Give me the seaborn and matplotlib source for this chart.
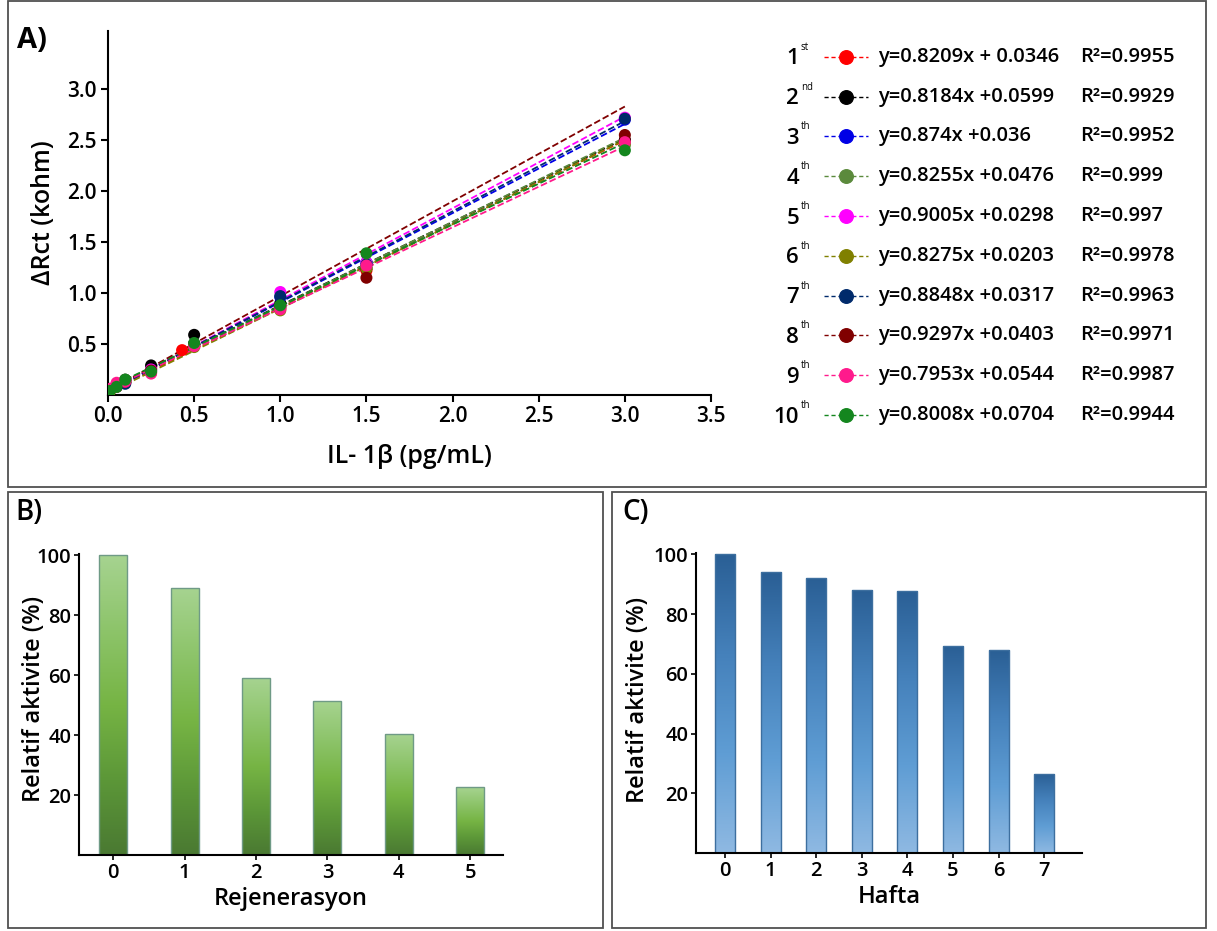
import numpy as np
import pandas as pd
import matplotlib
matplotlib.use("Agg")
import matplotlib.pyplot as plt
import seaborn as sns
from matplotlib.patches import Rectangle
from matplotlib.colors import LinearSegmentedColormap

# ---------------- data ----------------
# Panel A: calibration runs, delta Rct (kohm) vs IL-1beta concentration (pg/mL)
conc = [0.01, 0.05, 0.1, 0.25, 0.5, 1.0, 1.5, 3.0]
conc_1st = [0.01, 0.05, 0.1, 0.25, 0.43, 1.0, 1.5, 3.0]
run_1st = [0.04, 0.08, 0.13, 0.22, 0.44, 0.85, 1.22, 2.50]
run_2nd = [0.06, 0.10, 0.15, 0.29, 0.59, 0.90, 1.24, 2.50]
run_3rd = [0.05, 0.08, 0.12, 0.24, 0.50, 0.96, 1.30, 2.70]
run_4th = [0.05, 0.10, 0.15, 0.24, 0.50, 0.87, 1.26, 2.45]
run_5th = [0.04, 0.11, 0.14, 0.25, 0.49, 1.01, 1.30, 2.72]
run_6th = [0.03, 0.08, 0.12, 0.22, 0.47, 0.83, 1.24, 2.47]
run_7th = [0.05, 0.09, 0.11, 0.23, 0.50, 0.97, 1.28, 2.71]
run_8th = [0.05, 0.09, 0.13, 0.24, 0.50, 0.86, 1.15, 2.55]
run_9th = [0.06, 0.12, 0.13, 0.21, 0.48, 0.84, 1.27, 2.48]
run_10th = [0.04, 0.08, 0.15, 0.23, 0.51, 0.88, 1.39, 2.40]

ordinals = ["1", "2", "3", "4", "5", "6", "7", "8", "9", "10"]
suffixes = ["st", "nd", "th", "th", "th", "th", "th", "th", "th", "th"]
slopes = [0.8209, 0.8184, 0.874, 0.8255, 0.9005, 0.8275, 0.8848, 0.9297, 0.7953, 0.8008]
intercepts = [0.0346, 0.0599, 0.036, 0.0476, 0.0298, 0.0203, 0.0317, 0.0403, 0.0544, 0.0704]
equation_labels = ["y=0.8209x + 0.0346", "y=0.8184x +0.0599", "y=0.874x +0.036",
                   "y=0.8255x +0.0476", "y=0.9005x +0.0298", "y=0.8275x +0.0203",
                   "y=0.8848x +0.0317", "y=0.9297x +0.0403", "y=0.7953x +0.0544",
                   "y=0.8008x +0.0704"]
r_squared = ["0.9955", "0.9929", "0.9952", "0.999", "0.997",
             "0.9978", "0.9963", "0.9971", "0.9987", "0.9944"]
run_colors = ["#ff0000", "#000000", "#0000e6", "#5b8a3c", "#ff00ff",
              "#808000", "#002a6b", "#800000", "#ff1a8c", "#14861e"]

# Panel B: regeneration cycles
regen_cycles = ["0", "1", "2", "3", "4", "5"]
regen_activity = [100, 89, 59, 51.3, 40.3, 22.7]

# Panel C: storage stability by week
weeks = ["0", "1", "2", "3", "4", "5", "6", "7"]
week_activity = [100, 94, 92, 88, 87.8, 69.5, 68, 26.5]

# ---------------- style ----------------
sns.set_theme(style="ticks")
plt.rcParams["font.family"] = ["Open Sans", "DejaVu Sans"]
plt.rcParams["font.weight"] = "semibold"
plt.rcParams["axes.labelweight"] = "semibold"
plt.rcParams["axes.linewidth"] = 1.5
for key in ["text.color", "axes.labelcolor", "xtick.color", "ytick.color",
            "axes.edgecolor"]:
    plt.rcParams[key] = "black"

W, H = 1217, 931
fig = plt.figure(figsize=(W / 100, H / 100), dpi=100)
fig.patch.set_facecolor("white")


def box(left, top, right, bottom):
    """Figure-fraction rect from pixel edges."""
    return [left / W, 1 - bottom / H, (right - left) / W, (bottom - top) / H]


# panel frames
for l, t, r, b in [(8, 1, 1206, 487), (8, 492, 603, 928), (612, 492, 1206, 928)]:
    fig.add_artist(Rectangle((l / W, 1 - b / H), (r - l) / W, (b - t) / H,
                             transform=fig.transFigure, fill=False,
                             ec="#505050", lw=1.3))

# ---------------- panel A ----------------
axA = fig.add_axes(box(108, 31, 711, 395))
runs = [run_1st, run_2nd, run_3rd, run_4th, run_5th,
        run_6th, run_7th, run_8th, run_9th, run_10th]
names = [o + s for o, s in zip(ordinals, suffixes)]

pts = pd.concat([
    pd.DataFrame({"x": conc_1st if i == 0 else conc, "y": ys, "run": names[i]})
    for i, ys in enumerate(runs)], ignore_index=True)

x_fit = [0.0, 3.0]
fits = pd.concat([
    pd.DataFrame({"x": x_fit, "y": [m * xv + c for xv in x_fit], "run": names[i]})
    for i, (m, c) in enumerate(zip(slopes, intercepts))], ignore_index=True)

palette = dict(zip(names, run_colors))
sns.lineplot(data=fits, x="x", y="y", hue="run", palette=palette,
             linestyle="--", lw=1.3, legend=False, ax=axA, zorder=2)
sns.scatterplot(data=pts, x="x", y="y", hue="run", palette=palette,
                s=75, edgecolor="none", legend=False, ax=axA, zorder=3)

axA.set_xlim(0, 3.5)
axA.set_ylim(0, 3.57)
axA.set_xticks([0.0, 0.5, 1.0, 1.5, 2.0, 2.5, 3.0, 3.5])
axA.set_yticks([0.5, 1.0, 1.5, 2.0, 2.5, 3.0])
axA.xaxis.set_major_formatter(matplotlib.ticker.FormatStrFormatter("%.1f"))
axA.yaxis.set_major_formatter(matplotlib.ticker.FormatStrFormatter("%.1f"))
axA.tick_params(labelsize=15, length=5, width=1.5, pad=3)
axA.set_xlabel("IL- 1β (pg/mL)", fontsize=18, labelpad=12)
axA.set_ylabel("ΔRct (kohm)", fontsize=18, labelpad=8)
sns.despine(ax=axA)

# legend block with fitted equations
axL = fig.add_axes(box(770, 37, 1200, 435))
axL.set_xlim(770, 1200)
axL.set_ylim(10.5, 0.5)
axL.axis("off")
for i in range(10):
    row = i + 1
    axL.text(799, row + 0.05, ordinals[i], ha="right", va="center", fontsize=16)
    axL.text(801, row - 0.24, suffixes[i], ha="left", va="center",
             fontsize=7, fontweight="normal")
    axL.plot([824, 868], [row, row], color=run_colors[i], ls=(0, (3, 2)), lw=1)
    axL.scatter([846], [row], s=95, color=run_colors[i], zorder=3)
    axL.text(878, row, equation_labels[i], ha="left", va="center", fontsize=14.5)
    axL.text(1080, row, "R²=" + r_squared[i], ha="left", va="center", fontsize=14.5)

fig.text(17 / W, 1 - 40 / H, "A)", fontsize=21, fontweight="bold", va="center")


# ---------------- gradient bars ----------------
def fill_gradient(ax, colors):
    cmap = LinearSegmentedColormap.from_list("bar_grad", colors)
    grad = np.linspace(0, 1, 256).reshape(-1, 1)
    for bar in list(ax.patches):
        x0, y0 = bar.get_x(), bar.get_y()
        w, h = bar.get_width(), bar.get_height()
        im = ax.imshow(grad, cmap=cmap, origin="lower", aspect="auto",
                       extent=[x0, x0 + w, y0, y0 + h], zorder=1.5)
        im.set_clip_path(bar)
        bar.set_facecolor("none")
        bar.set_zorder(2)


def style_bar_axes(ax, xlabel, xlim, ylabel_x, ylabel_y):
    ax.set_xlim(*xlim)
    ax.set_ylim(0, 100.5)
    ax.set_yticks([20, 40, 60, 80, 100])
    ax.tick_params(labelsize=14.5, length=3.5, width=1.2, pad=2)
    ax.set_xlabel(xlabel, fontsize=17, labelpad=3)
    ax.set_ylabel("Relatif aktivite (%)", fontsize=17)
    ax.yaxis.set_label_coords(ylabel_x, ylabel_y)
    sns.despine(ax=ax)


# ---------------- panel B ----------------
axB = fig.add_axes(box(79, 554, 503, 855))
sns.barplot(x=regen_cycles, y=regen_activity, width=0.39, color="#78b445",
            saturation=1, edgecolor="#6f9a86", linewidth=1, ax=axB)
fill_gradient(axB, ["#4a7932", "#5c9738", "#76b444", "#8dc46a", "#a6d390"])
style_bar_axes(axB, "Rejenerasyon", (-0.48, 5.46), -0.078, 0.52)
fig.text(15 / W, 1 - 512 / H, "B)", fontsize=20, va="center")

# ---------------- panel C ----------------
axC = fig.add_axes(box(696, 553, 1082, 853))
sns.barplot(x=weeks, y=week_activity, width=0.44, color="#4f8bc5",
            saturation=1, edgecolor="#3d6f9f", linewidth=1, ax=axC)
fill_gradient(axC, ["#8fb9e2", "#5f9dd4", "#4581bb", "#2a5f95"])
style_bar_axes(axC, "Hafta", (-0.64, 7.83), -0.118, 0.51)
fig.text(622 / W, 1 - 512 / H, "C)", fontsize=20, va="center")

fig.savefig("out.png", dpi=100)
